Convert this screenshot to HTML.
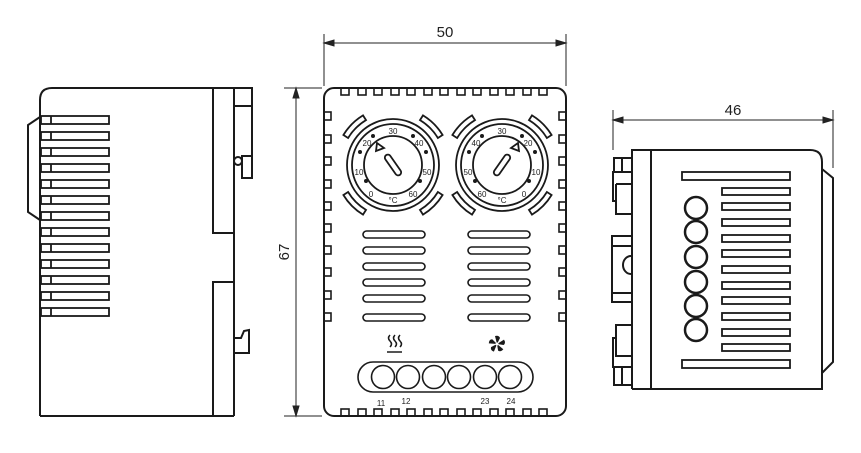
<!DOCTYPE html>
<html><head><meta charset="utf-8"><style>
html,body{margin:0;padding:0;background:#fff;}
svg{display:block;}
text{font-family:"Liberation Sans",sans-serif;fill:#222;}
</style></head><body>
<svg width="861" height="453" viewBox="0 0 861 453" xmlns="http://www.w3.org/2000/svg">
<g fill="none" stroke="#1a1a1a" stroke-width="2">
<!-- LEFT VIEW -->
<path d="M40,416 V100 Q40,88 52,88 H252 V106 H234 M252,106 V156 H242 V178 H252 V156"/>
<line x1="234" y1="88" x2="234" y2="416"/>
<circle cx="238" cy="161" r="4"/>
<path d="M40,416 H234"/>
<path d="M213,88 V233 H234 M213,416 V282 H234"/>
<path d="M234,338 H241 L244,331 L249,330 V353 H234"/>
<path d="M40,117 L28,125 V212 L40,220"/>
</g>
<g fill="none" stroke="#1a1a1a" stroke-width="1.8">
<rect x="41" y="116" width="68" height="8"/><line x1="51" y1="116" x2="51" y2="124"/>
<rect x="41" y="132" width="68" height="8"/><line x1="51" y1="132" x2="51" y2="140"/>
<rect x="41" y="148" width="68" height="8"/><line x1="51" y1="148" x2="51" y2="156"/>
<rect x="41" y="164" width="68" height="8"/><line x1="51" y1="164" x2="51" y2="172"/>
<rect x="41" y="180" width="68" height="8"/><line x1="51" y1="180" x2="51" y2="188"/>
<rect x="41" y="196" width="68" height="8"/><line x1="51" y1="196" x2="51" y2="204"/>
<rect x="41" y="212" width="68" height="8"/><line x1="51" y1="212" x2="51" y2="220"/>
<rect x="41" y="228" width="68" height="8"/><line x1="51" y1="228" x2="51" y2="236"/>
<rect x="41" y="244" width="68" height="8"/><line x1="51" y1="244" x2="51" y2="252"/>
<rect x="41" y="260" width="68" height="8"/><line x1="51" y1="260" x2="51" y2="268"/>
<rect x="41" y="276" width="68" height="8"/><line x1="51" y1="276" x2="51" y2="284"/>
<rect x="41" y="292" width="68" height="8"/><line x1="51" y1="292" x2="51" y2="300"/>
<rect x="41" y="308" width="68" height="8"/><line x1="51" y1="308" x2="51" y2="316"/>
</g>

<!-- dimensions -->
<g stroke="#222" stroke-width="1" fill="#222">
<line x1="296" y1="88" x2="296" y2="416"/>
<line x1="284" y1="88" x2="322" y2="88"/>
<line x1="284" y1="416" x2="322" y2="416"/>
<path d="M296,88 l-3,10 h6z M296,416 l-3,-10 h6z"/>
<line x1="324" y1="34" x2="324" y2="86"/>
<line x1="566" y1="34" x2="566" y2="86"/>
<line x1="324" y1="43" x2="566" y2="43"/>
<path d="M324,43 l10,-3 v6z M566,43 l-10,-3 v6z"/>
<line x1="613" y1="110" x2="613" y2="150"/>
<line x1="833" y1="110" x2="833" y2="168"/>
<line x1="613" y1="120" x2="833" y2="120"/>
<path d="M613,120 l10,-3 v6z M833,120 l-10,-3 v6z"/>
</g>
<text x="445" y="37" font-size="15" text-anchor="middle">50</text>
<text x="733" y="115" font-size="15" text-anchor="middle">46</text>
<text transform="translate(289,252) rotate(-90)" font-size="15" text-anchor="middle">67</text>

<!-- FRONT VIEW -->
<g fill="none" stroke="#1a1a1a" stroke-width="2">
<rect x="324" y="88" width="242" height="328" rx="10"/>
</g>
<g fill="none" stroke="#1a1a1a" stroke-width="1.6">
<rect x="341" y="88" width="8" height="7"/><rect x="358" y="88" width="8" height="7"/><rect x="374" y="88" width="8" height="7"/><rect x="391" y="88" width="8" height="7"/><rect x="407" y="88" width="8" height="7"/><rect x="424" y="88" width="8" height="7"/><rect x="440" y="88" width="8" height="7"/><rect x="457" y="88" width="8" height="7"/><rect x="473" y="88" width="8" height="7"/><rect x="490" y="88" width="8" height="7"/><rect x="506" y="88" width="8" height="7"/><rect x="523" y="88" width="8" height="7"/><rect x="539" y="88" width="8" height="7"/>
<rect x="341" y="409" width="8" height="7"/><rect x="358" y="409" width="8" height="7"/><rect x="374" y="409" width="8" height="7"/><rect x="391" y="409" width="8" height="7"/><rect x="407" y="409" width="8" height="7"/><rect x="424" y="409" width="8" height="7"/><rect x="440" y="409" width="8" height="7"/><rect x="457" y="409" width="8" height="7"/><rect x="473" y="409" width="8" height="7"/><rect x="490" y="409" width="8" height="7"/><rect x="506" y="409" width="8" height="7"/><rect x="523" y="409" width="8" height="7"/><rect x="539" y="409" width="8" height="7"/>
<rect x="324" y="112" width="7" height="8"/><rect x="324" y="135" width="7" height="8"/><rect x="324" y="157" width="7" height="8"/><rect x="324" y="180" width="7" height="8"/><rect x="324" y="202" width="7" height="8"/><rect x="324" y="224" width="7" height="8"/><rect x="324" y="246" width="7" height="8"/><rect x="324" y="268" width="7" height="8"/><rect x="324" y="291" width="7" height="8"/><rect x="324" y="313" width="7" height="8"/>
<rect x="559" y="112" width="7" height="8"/><rect x="559" y="135" width="7" height="8"/><rect x="559" y="157" width="7" height="8"/><rect x="559" y="180" width="7" height="8"/><rect x="559" y="202" width="7" height="8"/><rect x="559" y="224" width="7" height="8"/><rect x="559" y="246" width="7" height="8"/><rect x="559" y="268" width="7" height="8"/><rect x="559" y="291" width="7" height="8"/><rect x="559" y="313" width="7" height="8"/>
<g id="v">
<rect x="363" y="231" width="62" height="7" rx="3.5"/><rect x="363" y="247" width="62" height="7" rx="3.5"/><rect x="363" y="263" width="62" height="7" rx="3.5"/><rect x="363" y="279" width="62" height="7" rx="3.5"/><rect x="363" y="295" width="62" height="7" rx="3.5"/><rect x="363" y="314" width="62" height="7" rx="3.5"/>
</g>
<use href="#v" x="105"/>
<rect x="358" y="362" width="175" height="30" rx="15"/>
<circle cx="383" cy="377" r="11.5"/><circle cx="408" cy="377" r="11.5"/><circle cx="434" cy="377" r="11.5"/><circle cx="459" cy="377" r="11.5"/><circle cx="485" cy="377" r="11.5"/><circle cx="510" cy="377" r="11.5"/>
</g>
<g font-size="8" text-anchor="middle">
<text x="381" y="406">11</text><text x="406" y="404">12</text><text x="485" y="404">23</text><text x="511" y="404">24</text>
</g>
<g fill="none" stroke="#1a1a1a" stroke-width="1.5">
<path d="M390,335 q-3,3 0,6 q3,3 0,6 M395,335 q-3,3 0,6 q3,3 0,6 M400,335 q-3,3 0,6 q3,3 0,6"/>
<line x1="387" y1="352" x2="402" y2="352"/>
</g>
<g fill="#1a1a1a" transform="translate(497,344)">
<path d="M0,0 L-2,-8 Q2,-9 3,-6 Z"/>
<path d="M0,0 L-2,-8 Q2,-9 3,-6 Z" transform="rotate(72)"/>
<path d="M0,0 L-2,-8 Q2,-9 3,-6 Z" transform="rotate(144)"/>
<path d="M0,0 L-2,-8 Q2,-9 3,-6 Z" transform="rotate(216)"/>
<path d="M0,0 L-2,-8 Q2,-9 3,-6 Z" transform="rotate(288)"/>
<circle r="1.5" fill="#fff"/>
</g>

<!-- dials -->
<g id="dialL" transform="translate(393,165)">
<g fill="none" stroke="#1a1a1a" stroke-width="1.8">
<circle r="46"/><circle r="41"/><circle r="29"/>
<path id="arc" d="M-44.9,-27 A52.4,52.4 0 0 1 -27,-44.9 L-30,-49.6 A58,58 0 0 0 -49.6,-30 Z"/>
<path d="M-44.9,-27 A52.4,52.4 0 0 1 -27,-44.9 L-30,-49.6 A58,58 0 0 0 -49.6,-30 Z" transform="rotate(90)"/>
<path d="M-44.9,-27 A52.4,52.4 0 0 1 -27,-44.9 L-30,-49.6 A58,58 0 0 0 -49.6,-30 Z" transform="rotate(180)"/>
<path d="M-44.9,-27 A52.4,52.4 0 0 1 -27,-44.9 L-30,-49.6 A58,58 0 0 0 -49.6,-30 Z" transform="rotate(270)"/>
</g>
<g fill="#1a1a1a">
<circle cx="-20" cy="-29" r="2"/><circle cx="20" cy="-29" r="2"/><circle cx="-33" cy="-13" r="2"/><circle cx="33" cy="-13" r="2"/><circle cx="-27" cy="16" r="2"/><circle cx="27" cy="16" r="2"/>
</g>
</g>
<g transform="translate(393,165)" font-size="8" text-anchor="middle">
<text x="0" y="-31">30</text><text x="-26" y="-19">20</text><text x="26" y="-19">40</text><text x="-34" y="10">10</text><text x="34" y="10">50</text><text x="-22" y="32">0</text><text x="0" y="38">°C</text><text x="20" y="32">60</text>
</g>
<g transform="translate(393,165)" fill="none" stroke="#1a1a1a" stroke-width="1.8">
<rect x="-3" y="-12" width="6" height="24" rx="3" transform="rotate(-35)"/>
<path d="M-16,-22 l7,5 l-8,3 z"/>
</g>
<use href="#dialL" x="109"/>
<g transform="translate(502,165)" font-size="8" text-anchor="middle">
<text x="0" y="-31">30</text><text x="-26" y="-19">40</text><text x="26" y="-19">20</text><text x="-34" y="10">50</text><text x="34" y="10">10</text><text x="-20" y="32">60</text><text x="0" y="38">°C</text><text x="22" y="32">0</text>
</g>
<g transform="translate(502,165)" fill="none" stroke="#1a1a1a" stroke-width="1.8">
<rect x="-3" y="-12" width="6" height="24" rx="3" transform="rotate(35)"/>
<path d="M16,-22 l-7,5 l8,3 z"/>
</g>

<!-- RIGHT VIEW -->
<g fill="none" stroke="#1a1a1a" stroke-width="2">
<path d="M632,389 V150 H810 Q822,150 822,162 V389 H632"/>
<path d="M822,169 L833,178 V362 L822,373"/>
<line x1="651" y1="150" x2="651" y2="389"/>
<path d="M631,158 H614 V172 H613 V201 H616 V214 H631 M614,172 H631 M622,158 V172 M616,184 V201 M616,184 H631"/>
<path d="M631,236 H612 V302 H631 M612,293 H631 M612,246 H631 M631,256 A8,9 0 0 0 631,274"/>
<path d="M631,325 H616 V338 H613 V367 H614 V385 H631 M614,367 H631 M622,367 V385 M616,338 V356 H631"/>
</g>
<g fill="none" stroke="#1a1a1a" stroke-width="1.8">
<rect x="682" y="172" width="108" height="8"/>
<rect x="682" y="360" width="108" height="8"/>
<rect x="722" y="188" width="68" height="7"/><rect x="722" y="203" width="68" height="7"/><rect x="722" y="219" width="68" height="7"/><rect x="722" y="235" width="68" height="7"/><rect x="722" y="250" width="68" height="7"/><rect x="722" y="266" width="68" height="7"/><rect x="722" y="282" width="68" height="7"/><rect x="722" y="297" width="68" height="7"/><rect x="722" y="313" width="68" height="7"/><rect x="722" y="329" width="68" height="7"/><rect x="722" y="344" width="68" height="7"/>
</g>
<g fill="none" stroke="#1a1a1a" stroke-width="2.5">
<circle cx="696" cy="208" r="11"/><circle cx="696" cy="232" r="11"/><circle cx="696" cy="257" r="11"/><circle cx="696" cy="282" r="11"/><circle cx="696" cy="306" r="11"/><circle cx="696" cy="330" r="11"/>
</g>
</svg>
</body></html>
